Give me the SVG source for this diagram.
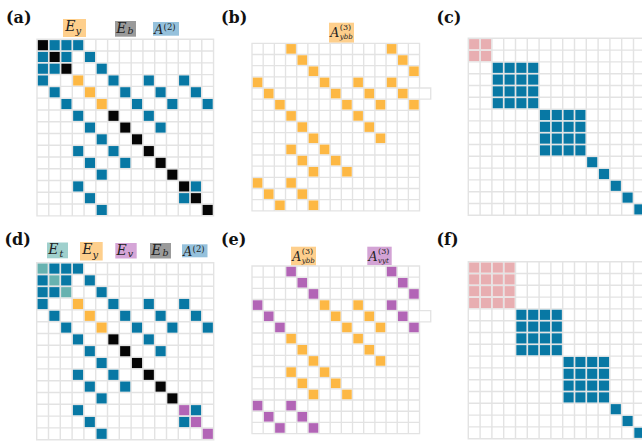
<svg xmlns="http://www.w3.org/2000/svg" xmlns:xlink="http://www.w3.org/1999/xlink" width="642" height="441" viewBox="0 0 642 441">
<style>
.b{fill:#0878a4}.k{fill:#050505}.o{fill:#fdb844}.t{fill:#67b2b0}.p{fill:#b265b6}.r{fill:#e8aeb1}
.grid{fill:none;stroke:#e3e3e3;stroke-width:0.12;stroke-linecap:square}
.bg{fill:#fff}
.pl{font-family:'DejaVu Serif','Liberation Serif',serif;font-weight:bold;font-size:16px;fill:#111}
.m{font-family:'DejaVu Serif','Liberation Serif',serif;font-style:italic;fill:#222}
.n{font-style:normal}
</style>
<defs>
<rect id="c" x="0.07" y="0.07" width="0.86" height="0.86"/>
<g id="g15">
<rect class="bg" x="0" y="0" width="15" height="15"/>
<path class="grid" d="M0 0V15M1 0V15M2 0V15M3 0V15M4 0V15M5 0V15M6 0V15M7 0V15M8 0V15M9 0V15M10 0V15M11 0V15M12 0V15M13 0V15M14 0V15M15 0V15M0 0H15M0 1H15M0 2H15M0 3H15M0 4H15M0 5H15M0 6H15M0 7H15M0 8H15M0 9H15M0 10H15M0 11H15M0 12H15M0 13H15M0 14H15M0 15H15"/>
</g>
<g id="ax">
<rect class="bg" x="15" y="4" width="1" height="1"/>
<path class="grid" d="M15 4H16V5H15"/>
</g>
</defs>

<!-- Panel labels -->
<text class="pl" x="6" y="23">(a)</text>
<text class="pl" x="221" y="23">(b)</text>
<text class="pl" x="436.5" y="23">(c)</text>
<text class="pl" x="4.5" y="244.5">(d)</text>
<text class="pl" x="221" y="244.5">(e)</text>
<text class="pl" x="436.5" y="244.5">(f)</text>

<!-- Panel a -->
<g id="panel-a">
<g id="legend-a">
<rect x="63" y="19" width="23" height="18" fill="#fecf8c"/>
<text class="m"><tspan x="65.3" y="30.8" font-size="14">E</tspan><tspan x="75.5" y="34" font-size="10">y</tspan></text>
<rect x="115" y="21" width="21" height="15.7" fill="#9a9a9a"/>
<text class="m"><tspan x="116.3" y="33.3" font-size="14">E</tspan><tspan x="127.5" y="34.3" font-size="9.5">b</tspan></text>
<rect x="153" y="22" width="26" height="13.7" fill="#95c1dc"/>
<text class="m"><tspan x="154.3" y="34.3" font-size="12.5">A</tspan><tspan class="n" x="163.6" y="29.5" font-size="8.5">(2)</tspan></text>
</g>
<g id="matrix-a" transform="translate(37,39.3) scale(11.77)">
<use href="#g15"/>
<use href="#c" class="k" x="0" y="0"/><use href="#c" class="k" x="1" y="1"/><use href="#c" class="k" x="2" y="2"/>
<use href="#c" class="k" x="6" y="6"/><use href="#c" class="k" x="7" y="7"/><use href="#c" class="k" x="8" y="8"/><use href="#c" class="k" x="9" y="9"/><use href="#c" class="k" x="10" y="10"/><use href="#c" class="k" x="11" y="11"/><use href="#c" class="k" x="12" y="12"/><use href="#c" class="k" x="13" y="13"/><use href="#c" class="k" x="14" y="14"/>
<use href="#c" class="o" x="3" y="3"/><use href="#c" class="o" x="4" y="4"/><use href="#c" class="o" x="5" y="5"/>
<use href="#c" class="b" x="1" y="0"/><use href="#c" class="b" x="2" y="0"/><use href="#c" class="b" x="3" y="0"/>
<use href="#c" class="b" x="0" y="1"/><use href="#c" class="b" x="2" y="1"/><use href="#c" class="b" x="4" y="1"/>
<use href="#c" class="b" x="0" y="2"/><use href="#c" class="b" x="1" y="2"/><use href="#c" class="b" x="5" y="2"/>
<use href="#c" class="b" x="0" y="3"/><use href="#c" class="b" x="6" y="3"/><use href="#c" class="b" x="9" y="3"/><use href="#c" class="b" x="12" y="3"/>
<use href="#c" class="b" x="1" y="4"/><use href="#c" class="b" x="7" y="4"/><use href="#c" class="b" x="10" y="4"/><use href="#c" class="b" x="13" y="4"/>
<use href="#c" class="b" x="2" y="5"/><use href="#c" class="b" x="8" y="5"/><use href="#c" class="b" x="11" y="5"/><use href="#c" class="b" x="14" y="5"/>
<use href="#c" class="b" x="3" y="6"/><use href="#c" class="b" x="9" y="6"/>
<use href="#c" class="b" x="4" y="7"/><use href="#c" class="b" x="10" y="7"/>
<use href="#c" class="b" x="5" y="8"/>
<use href="#c" class="b" x="3" y="9"/><use href="#c" class="b" x="6" y="9"/>
<use href="#c" class="b" x="4" y="10"/><use href="#c" class="b" x="7" y="10"/>
<use href="#c" class="b" x="5" y="11"/>
<use href="#c" class="b" x="3" y="12"/><use href="#c" class="b" x="13" y="12"/>
<use href="#c" class="b" x="4" y="13"/><use href="#c" class="b" x="12" y="13"/>
<use href="#c" class="b" x="5" y="14"/>
</g>
</g>

<!-- Panel b -->
<g id="panel-b">
<g id="legend-b">
<rect x="329" y="22.7" width="25" height="20" fill="#fecf8c"/>
<text class="m"><tspan x="330.3" y="37" font-size="12.5">A</tspan><tspan class="n" x="339.8" y="29.5" font-size="8">(3)</tspan><tspan x="339.8" y="38.8" font-size="7">ybb</tspan></text>
</g>
<g id="matrix-b" transform="translate(252,43.3) scale(11.17)">
<use href="#g15"/><use href="#ax"/>
<use href="#c" class="o" x="3" y="0"/><use href="#c" class="o" x="12" y="0"/>
<use href="#c" class="o" x="4" y="1"/><use href="#c" class="o" x="13" y="1"/>
<use href="#c" class="o" x="5" y="2"/><use href="#c" class="o" x="14" y="2"/>
<use href="#c" class="o" x="0" y="3"/><use href="#c" class="o" x="6" y="3"/><use href="#c" class="o" x="9" y="3"/><use href="#c" class="o" x="12" y="3"/>
<use href="#c" class="o" x="1" y="4"/><use href="#c" class="o" x="7" y="4"/><use href="#c" class="o" x="10" y="4"/><use href="#c" class="o" x="13" y="4"/>
<use href="#c" class="o" x="2" y="5"/><use href="#c" class="o" x="8" y="5"/><use href="#c" class="o" x="11" y="5"/><use href="#c" class="o" x="14" y="5"/>
<use href="#c" class="o" x="3" y="6"/><use href="#c" class="o" x="9" y="6"/>
<use href="#c" class="o" x="4" y="7"/><use href="#c" class="o" x="10" y="7"/>
<use href="#c" class="o" x="5" y="8"/><use href="#c" class="o" x="11" y="8"/>
<use href="#c" class="o" x="3" y="9"/><use href="#c" class="o" x="6" y="9"/>
<use href="#c" class="o" x="4" y="10"/><use href="#c" class="o" x="7" y="10"/>
<use href="#c" class="o" x="5" y="11"/><use href="#c" class="o" x="8" y="11"/>
<use href="#c" class="o" x="0" y="12"/><use href="#c" class="o" x="3" y="12"/>
<use href="#c" class="o" x="1" y="13"/><use href="#c" class="o" x="4" y="13"/>
<use href="#c" class="o" x="2" y="14"/><use href="#c" class="o" x="5" y="14"/>
</g>
</g>

<!-- Panel c -->
<g id="panel-c">
<g id="matrix-c" transform="translate(468.3,38.3) scale(11.8)">
<use href="#g15"/>
<use href="#c" class="r" x="0" y="0"/><use href="#c" class="r" x="1" y="0"/><use href="#c" class="r" x="0" y="1"/><use href="#c" class="r" x="1" y="1"/>
<use href="#c" class="b" x="2" y="2"/><use href="#c" class="b" x="3" y="2"/><use href="#c" class="b" x="4" y="2"/><use href="#c" class="b" x="5" y="2"/>
<use href="#c" class="b" x="2" y="3"/><use href="#c" class="b" x="3" y="3"/><use href="#c" class="b" x="4" y="3"/><use href="#c" class="b" x="5" y="3"/>
<use href="#c" class="b" x="2" y="4"/><use href="#c" class="b" x="3" y="4"/><use href="#c" class="b" x="4" y="4"/><use href="#c" class="b" x="5" y="4"/>
<use href="#c" class="b" x="2" y="5"/><use href="#c" class="b" x="3" y="5"/><use href="#c" class="b" x="4" y="5"/><use href="#c" class="b" x="5" y="5"/>
<use href="#c" class="b" x="6" y="6"/><use href="#c" class="b" x="7" y="6"/><use href="#c" class="b" x="8" y="6"/><use href="#c" class="b" x="9" y="6"/>
<use href="#c" class="b" x="6" y="7"/><use href="#c" class="b" x="7" y="7"/><use href="#c" class="b" x="8" y="7"/><use href="#c" class="b" x="9" y="7"/>
<use href="#c" class="b" x="6" y="8"/><use href="#c" class="b" x="7" y="8"/><use href="#c" class="b" x="8" y="8"/><use href="#c" class="b" x="9" y="8"/>
<use href="#c" class="b" x="6" y="9"/><use href="#c" class="b" x="7" y="9"/><use href="#c" class="b" x="8" y="9"/><use href="#c" class="b" x="9" y="9"/>
<use href="#c" class="b" x="10" y="10"/><use href="#c" class="b" x="11" y="11"/><use href="#c" class="b" x="12" y="12"/><use href="#c" class="b" x="13" y="13"/><use href="#c" class="b" x="14" y="14"/>
</g>
</g>

<!-- Panel d -->
<g id="panel-d">
<g id="legend-d">
<rect x="47" y="242.5" width="21" height="15.8" fill="#9fd0cd"/>
<text class="m"><tspan x="48.3" y="254.3" font-size="14">E</tspan><tspan x="59.5" y="256.5" font-size="9.5">t</tspan></text>
<rect x="80" y="242" width="22.7" height="18.5" fill="#fecf8c"/>
<text class="m"><tspan x="82.3" y="254.3" font-size="14">E</tspan><tspan x="92.5" y="257.5" font-size="10">y</tspan></text>
<rect x="115.3" y="243" width="21.4" height="15.5" fill="#d5a5d7"/>
<text class="m"><tspan x="116.6" y="254.8" font-size="14">E</tspan><tspan x="127.8" y="256.8" font-size="9.5">v</tspan></text>
<rect x="150" y="243" width="21" height="15.5" fill="#9a9a9a"/>
<text class="m"><tspan x="151.3" y="254.8" font-size="14">E</tspan><tspan x="162.5" y="255.8" font-size="9.5">b</tspan></text>
<rect x="182" y="244.3" width="25.5" height="13" fill="#95c1dc"/>
<text class="m"><tspan x="183.3" y="256.2" font-size="12.5">A</tspan><tspan class="n" x="192.6" y="251.5" font-size="8.5">(2)</tspan></text>
</g>
<g id="matrix-d" transform="translate(36.7,262.7) scale(11.8)">
<use href="#g15"/>
<use href="#c" class="t" x="0" y="0"/><use href="#c" class="t" x="1" y="1"/><use href="#c" class="t" x="2" y="2"/>
<use href="#c" class="k" x="6" y="6"/><use href="#c" class="k" x="7" y="7"/><use href="#c" class="k" x="8" y="8"/><use href="#c" class="k" x="9" y="9"/><use href="#c" class="k" x="10" y="10"/><use href="#c" class="k" x="11" y="11"/>
<use href="#c" class="p" x="12" y="12"/><use href="#c" class="p" x="13" y="13"/><use href="#c" class="p" x="14" y="14"/>
<use href="#c" class="o" x="3" y="3"/><use href="#c" class="o" x="4" y="4"/><use href="#c" class="o" x="5" y="5"/>
<use href="#c" class="b" x="1" y="0"/><use href="#c" class="b" x="2" y="0"/><use href="#c" class="b" x="3" y="0"/>
<use href="#c" class="b" x="0" y="1"/><use href="#c" class="b" x="2" y="1"/><use href="#c" class="b" x="4" y="1"/>
<use href="#c" class="b" x="0" y="2"/><use href="#c" class="b" x="1" y="2"/><use href="#c" class="b" x="5" y="2"/>
<use href="#c" class="b" x="0" y="3"/><use href="#c" class="b" x="6" y="3"/><use href="#c" class="b" x="9" y="3"/><use href="#c" class="b" x="12" y="3"/>
<use href="#c" class="b" x="1" y="4"/><use href="#c" class="b" x="7" y="4"/><use href="#c" class="b" x="10" y="4"/><use href="#c" class="b" x="13" y="4"/>
<use href="#c" class="b" x="2" y="5"/><use href="#c" class="b" x="8" y="5"/><use href="#c" class="b" x="11" y="5"/><use href="#c" class="b" x="14" y="5"/>
<use href="#c" class="b" x="3" y="6"/><use href="#c" class="b" x="9" y="6"/>
<use href="#c" class="b" x="4" y="7"/><use href="#c" class="b" x="10" y="7"/>
<use href="#c" class="b" x="5" y="8"/>
<use href="#c" class="b" x="3" y="9"/><use href="#c" class="b" x="6" y="9"/>
<use href="#c" class="b" x="4" y="10"/><use href="#c" class="b" x="7" y="10"/>
<use href="#c" class="b" x="5" y="11"/>
<use href="#c" class="b" x="3" y="12"/><use href="#c" class="b" x="13" y="12"/>
<use href="#c" class="b" x="4" y="13"/><use href="#c" class="b" x="12" y="13"/>
<use href="#c" class="b" x="5" y="14"/>
</g>
</g>

<!-- Panel e -->
<g id="panel-e">
<g id="legend-e">
<rect x="291" y="246.7" width="25" height="19" fill="#fecf8c"/>
<text class="m"><tspan x="292.3" y="261" font-size="12.5">A</tspan><tspan class="n" x="301.8" y="253.5" font-size="8">(3)</tspan><tspan x="301.8" y="262.8" font-size="7">ybb</tspan></text>
<rect x="367.3" y="246.7" width="24.4" height="18.5" fill="#d3a3d5"/>
<text class="m"><tspan x="368.6" y="261" font-size="12.5">A</tspan><tspan class="n" x="378.1" y="253.5" font-size="8">(3)</tspan><tspan x="378.1" y="262.8" font-size="7">vyt</tspan></text>
</g>
<g id="matrix-e" transform="translate(252,266) scale(11.17)">
<use href="#g15"/><use href="#ax"/>
<use href="#c" class="p" x="3" y="0"/><use href="#c" class="p" x="12" y="0"/>
<use href="#c" class="p" x="4" y="1"/><use href="#c" class="p" x="13" y="1"/>
<use href="#c" class="p" x="5" y="2"/><use href="#c" class="p" x="14" y="2"/>
<use href="#c" class="p" x="0" y="3"/><use href="#c" class="o" x="6" y="3"/><use href="#c" class="o" x="9" y="3"/><use href="#c" class="p" x="12" y="3"/>
<use href="#c" class="p" x="1" y="4"/><use href="#c" class="o" x="7" y="4"/><use href="#c" class="o" x="10" y="4"/><use href="#c" class="p" x="13" y="4"/>
<use href="#c" class="p" x="2" y="5"/><use href="#c" class="o" x="8" y="5"/><use href="#c" class="o" x="11" y="5"/><use href="#c" class="p" x="14" y="5"/>
<use href="#c" class="o" x="3" y="6"/><use href="#c" class="o" x="9" y="6"/>
<use href="#c" class="o" x="4" y="7"/><use href="#c" class="o" x="10" y="7"/>
<use href="#c" class="o" x="5" y="8"/><use href="#c" class="o" x="11" y="8"/>
<use href="#c" class="o" x="3" y="9"/><use href="#c" class="o" x="6" y="9"/>
<use href="#c" class="o" x="4" y="10"/><use href="#c" class="o" x="7" y="10"/>
<use href="#c" class="o" x="5" y="11"/><use href="#c" class="o" x="8" y="11"/>
<use href="#c" class="p" x="0" y="12"/><use href="#c" class="p" x="3" y="12"/>
<use href="#c" class="p" x="1" y="13"/><use href="#c" class="p" x="4" y="13"/>
<use href="#c" class="p" x="2" y="14"/><use href="#c" class="p" x="5" y="14"/>
</g>
</g>

<!-- Panel f -->
<g id="panel-f">
<g id="matrix-f" transform="translate(468.3,261.7) scale(11.8)">
<use href="#g15"/>
<use href="#c" class="r" x="0" y="0"/><use href="#c" class="r" x="1" y="0"/><use href="#c" class="r" x="2" y="0"/><use href="#c" class="r" x="3" y="0"/>
<use href="#c" class="r" x="0" y="1"/><use href="#c" class="r" x="1" y="1"/><use href="#c" class="r" x="2" y="1"/><use href="#c" class="r" x="3" y="1"/>
<use href="#c" class="r" x="0" y="2"/><use href="#c" class="r" x="1" y="2"/><use href="#c" class="r" x="2" y="2"/><use href="#c" class="r" x="3" y="2"/>
<use href="#c" class="r" x="0" y="3"/><use href="#c" class="r" x="1" y="3"/><use href="#c" class="r" x="2" y="3"/><use href="#c" class="r" x="3" y="3"/>
<use href="#c" class="b" x="4" y="4"/><use href="#c" class="b" x="5" y="4"/><use href="#c" class="b" x="6" y="4"/><use href="#c" class="b" x="7" y="4"/>
<use href="#c" class="b" x="4" y="5"/><use href="#c" class="b" x="5" y="5"/><use href="#c" class="b" x="6" y="5"/><use href="#c" class="b" x="7" y="5"/>
<use href="#c" class="b" x="4" y="6"/><use href="#c" class="b" x="5" y="6"/><use href="#c" class="b" x="6" y="6"/><use href="#c" class="b" x="7" y="6"/>
<use href="#c" class="b" x="4" y="7"/><use href="#c" class="b" x="5" y="7"/><use href="#c" class="b" x="6" y="7"/><use href="#c" class="b" x="7" y="7"/>
<use href="#c" class="b" x="8" y="8"/><use href="#c" class="b" x="9" y="8"/><use href="#c" class="b" x="10" y="8"/><use href="#c" class="b" x="11" y="8"/>
<use href="#c" class="b" x="8" y="9"/><use href="#c" class="b" x="9" y="9"/><use href="#c" class="b" x="10" y="9"/><use href="#c" class="b" x="11" y="9"/>
<use href="#c" class="b" x="8" y="10"/><use href="#c" class="b" x="9" y="10"/><use href="#c" class="b" x="10" y="10"/><use href="#c" class="b" x="11" y="10"/>
<use href="#c" class="b" x="8" y="11"/><use href="#c" class="b" x="9" y="11"/><use href="#c" class="b" x="10" y="11"/><use href="#c" class="b" x="11" y="11"/>
<use href="#c" class="b" x="12" y="12"/><use href="#c" class="b" x="13" y="13"/><use href="#c" class="b" x="14" y="14"/>
</g>
</g>
</svg>
